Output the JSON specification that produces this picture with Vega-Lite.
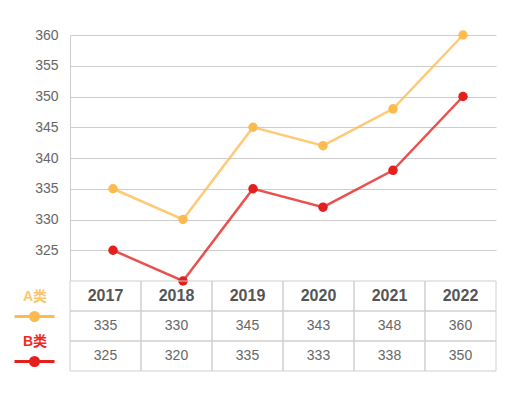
{
  "$schema": "https://vega.github.io/schema/vega-lite/v6.json",
  "padding": {"left": 13, "top": 28, "right": 20, "bottom": 20},
  "background": "white",
  "bounds": "flush",
  "config": {
    "view": {"stroke": null},
    "font": "Liberation Sans, Noto Sans CJK SC",
    "legend": {"padding": 0}
  },
  "datasets": {
    "d": [
      {"year": "2017", "series": "A类", "value": 335, "label": "335"},
      {"year": "2018", "series": "A类", "value": 330, "label": "330"},
      {"year": "2019", "series": "A类", "value": 345, "label": "345"},
      {"year": "2020", "series": "A类", "value": 342, "label": "343"},
      {"year": "2021", "series": "A类", "value": 348, "label": "348"},
      {"year": "2022", "series": "A类", "value": 360, "label": "360"},
      {"year": "2017", "series": "B类", "value": 325, "label": "325"},
      {"year": "2018", "series": "B类", "value": 320, "label": "320"},
      {"year": "2019", "series": "B类", "value": 335, "label": "335"},
      {"year": "2020", "series": "B类", "value": 332, "label": "333"},
      {"year": "2021", "series": "B类", "value": 338, "label": "338"},
      {"year": "2022", "series": "B类", "value": 350, "label": "350"}
    ]
  },
  "spacing": 0,
  "resolve": {"scale": {"x": "independent", "y": "independent"}},
  "vconcat": [
    {
      "width": 426,
      "height": 246,
      "data": {"name": "d"},
      "encoding": {
        "x": {"field": "year", "type": "ordinal", "scale": {"type": "point", "padding": 0.543, "align": 0.566}, "axis": null},
        "y": {
          "field": "value", "type": "quantitative",
          "scale": {"domain": [320, 360], "nice": false, "zero": false},
          "axis": {
            "title": null, "values": [325, 330, 335, 340, 345, 350, 355, 360],
            "ticks": false, "domainColor": "#cccccc", "gridColor": "#cccccc",
            "labelFontSize": 14, "labelColor": "#666666", "labelPadding": 12,
            "labelFont": "Liberation Sans"
          }
        },
        "color": {
          "field": "series", "type": "nominal",
          "scale": {"domain": ["A类", "B类"], "range": ["#FDBB4F", "#E3201E"]},
          "legend": {
            "title": null, "orient": "none", "legendX": -57, "legendY": 260,
            "direction": "vertical",
            "symbolType": "M-1,0H1M0.2,0A0.2,0.2,0,1,1,-0.2,0A0.2,0.2,0,1,1,0.2,0Z",
            "symbolSize": 1600, "symbolStrokeWidth": 3,
            "labelAlign": "center", "labelOffset": -21,
            "labelFontSize": 14, "labelFontWeight": "bold", "rowPadding": 7,
            "encode": {
              "symbols": {"update": {
                "stroke": {"signal": "datum.value == 'A类' ? '#FBC66B' : '#EE2A22'"},
                "fill": {"signal": "datum.value == 'A类' ? '#FBC66B' : '#EE2A22'"},
                "strokeWidth": {"value": 3},
                "opacity": {"value": 1}
              }},
              "labels": {"update": {
                "fill": {"signal": "datum.value == 'A类' ? '#FBC66B' : '#EE2A22'"},
                "baseline": {"value": "line-bottom"},
                "lineHeight": {"value": 40}
              }}
            }
          }
        }
      },
      "layer": [
        {
          "mark": {"type": "line", "strokeWidth": 2.5, "strokeOpacity": 0.78}
        },
        {
          "mark": {"type": "point", "filled": true, "opacity": 1, "size": 90}
        }
      ]
    },
    {
      "width": 426,
      "height": 90,
      "data": {"name": "d"},
      "encoding": {
        "x": {"field": "year", "type": "ordinal", "scale": {"type": "band", "paddingInner": 0, "paddingOuter": 0}, "axis": null}
      },
      "layer": [
        {
          "mark": {"type": "rect", "fill": "transparent", "stroke": "#cfcfcf", "strokeWidth": 1},
          "encoding": {
            "y": {"field": "series", "type": "nominal", "scale": {"domain": ["年份", "A类", "B类"], "paddingInner": 0, "paddingOuter": 0}, "axis": null}
          }
        },
        {
          "transform": [{"filter": "datum.series == 'A类'"}],
          "mark": {"type": "rect", "fill": "transparent", "stroke": "#cfcfcf", "strokeWidth": 1},
          "encoding": {
            "y": {"datum": "年份", "type": "nominal"}
          }
        },
        {
          "mark": {"type": "text", "fontSize": 14, "color": "#666666", "font": "Liberation Sans"},
          "encoding": {
            "y": {"field": "series", "type": "nominal"},
            "text": {"field": "label"}
          }
        },
        {
          "transform": [{"filter": "datum.series == 'A类'"}],
          "mark": {"type": "text", "fontSize": 16, "fontWeight": "bold", "color": "#555555", "font": "Liberation Sans"},
          "encoding": {
            "y": {"datum": "年份", "type": "nominal"},
            "text": {"field": "year"}
          }
        }
      ]
    }
  ]
}
